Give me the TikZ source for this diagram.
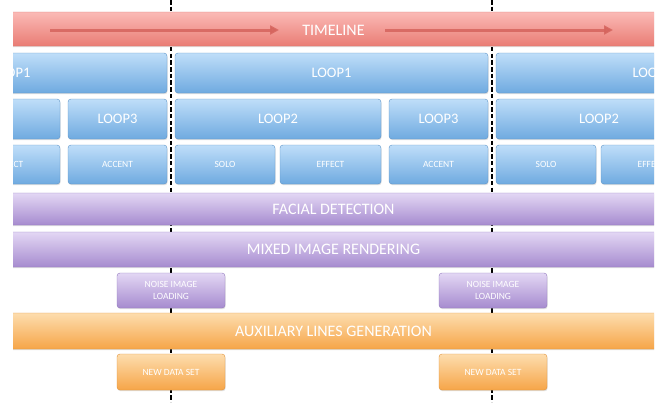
\documentclass[tikz,border=0pt]{standalone}
\usepackage{fontspec}
\setmainfont{Carlito}
\usetikzlibrary{arrows.meta,shadows}
\definecolor{rtop}{HTML}{FBBAB6}
\definecolor{rbot}{HTML}{E97C74}
\definecolor{rline}{HTML}{D8706A}
\definecolor{rarrow}{HTML}{D5645D}
\definecolor{btop}{HTML}{BFDEF9}
\definecolor{bbot}{HTML}{6FAAE0}
\definecolor{bline}{HTML}{5D94C8}
\definecolor{ptop}{HTML}{E3D7F4}
\definecolor{pbot}{HTML}{A68BCF}
\definecolor{pline}{HTML}{9279BD}
\definecolor{otop}{HTML}{FDDDAE}
\definecolor{obot}{HTML}{F6A548}
\definecolor{oline}{HTML}{E0923A}
\begin{document}
\begin{tikzpicture}[x=1pt,y=-1pt,
  box/.style={rounded corners=3pt, text=white, inner sep=0pt, align=center,
    draw=#1line, line width=0.4pt, top color=#1top, bottom color=#1bot,
    drop shadow={shadow xshift=0.6pt, shadow yshift=-1.2pt, opacity=0.25}},
  bandbox/.style={box=#1, minimum width=700pt, font=\fontsize{16}{18}\selectfont},
  loopbox/.style={box=b, minimum height=40pt, font=\fontsize{14.5}{16}\selectfont},
  partbox/.style={box=b, minimum height=39pt, font=\fontsize{9.5}{11}\selectfont},
  smallbox/.style={box=#1, minimum width=108pt, minimum height=35pt, font=\fontsize{9.5}{11.5}\selectfont},
  dashline/.style={black, line width=2.6pt, dash pattern=on 4.5pt off 2.2pt},
  tlarrow/.style={rarrow, line width=3pt, opacity=0.85, -{Triangle[length=9pt,width=9pt]}}
]
\useasboundingbox (0,0) rectangle (659,402);
\begin{scope}
\clip (13,0) rectangle (654,402);
% dashed time markers
\coordinate (d1t) at (171,0);
\coordinate (d1b) at (171,402);
\coordinate (d2t) at (492,0);
\coordinate (d2b) at (492,402);
\draw[dashline] (d1t) -- (d1b);
\draw[dashline] (d2t) -- (d2b);
% timeline
\node[bandbox=r, minimum height=34pt] (tl) at (333.5,29) {};
\node[font=\fontsize{16}{18}\selectfont, text=white] (tltext) at (333.5,30) {TIMELINE};
\coordinate (a1s) at (50,30);
\coordinate (a1e) at (279,30);
\coordinate (a2s) at (385,30);
\coordinate (a2e) at (613,30);
\draw[tlarrow] (a1s) -- (a1e);
\draw[tlarrow] (a2s) -- (a2e);
% loop1 row
\node[loopbox, minimum width=313pt] (l1a) at (10.5,73) {LOOP1};
\node[loopbox, minimum width=313pt] (l1b) at (331.5,73) {LOOP1};
\node[loopbox, minimum width=313pt] (l1c) at (652.5,73) {LOOP1};
% loop2/3 row
\node[loopbox, minimum width=206pt] (l2a) at (-43,119) {LOOP2};
\node[loopbox, minimum width=99pt] (l3a) at (117.5,119) {LOOP3};
\node[loopbox, minimum width=206pt] (l2b) at (278,119) {LOOP2};
\node[loopbox, minimum width=99pt] (l3b) at (438.5,119) {LOOP3};
\node[loopbox, minimum width=206pt] (l2c) at (599,119) {LOOP2};
% parts row
\node[partbox, minimum width=101pt] (efa) at (9.5,164.5) {EFFECT};
\node[partbox, minimum width=99pt] (aca) at (117.5,164.5) {ACCENT};
\node[partbox, minimum width=100pt] (sob) at (225,164.5) {SOLO};
\node[partbox, minimum width=101pt] (efb) at (330.5,164.5) {EFFECT};
\node[partbox, minimum width=99pt] (acb) at (438.5,164.5) {ACCENT};
\node[partbox, minimum width=100pt] (soc) at (546,164.5) {SOLO};
\node[partbox, minimum width=101pt] (efc) at (651.5,164.5) {EFFECT};
% processing bands
\node[bandbox=p, minimum height=32pt] (fd) at (333.5,209) {FACIAL DETECTION};
\node[bandbox=p, minimum height=35pt] (mir) at (333.5,249.5) {MIXED IMAGE RENDERING};
\node[smallbox=p] (nil1) at (171,290.5) {NOISE IMAGE\\LOADING};
\node[smallbox=p] (nil2) at (493,290.5) {NOISE IMAGE\\LOADING};
\node[bandbox=o, minimum height=36pt] (alg) at (333.5,331) {AUXILIARY LINES GENERATION};
\node[smallbox=o, minimum height=36pt] (nds1) at (171,372) {NEW DATA SET};
\node[smallbox=o, minimum height=36pt] (nds2) at (493,372) {NEW DATA SET};
\end{scope}
\end{tikzpicture}
\end{document}
